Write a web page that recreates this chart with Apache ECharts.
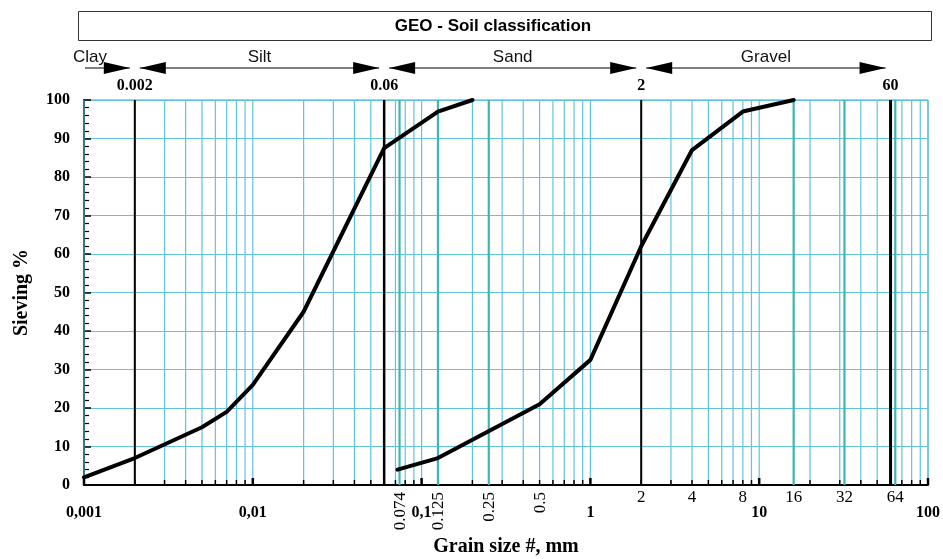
<!DOCTYPE html>
<html>
<head>
<meta charset="utf-8">
<script src="https://cdn.jsdelivr.net/npm/echarts@6/dist/echarts.min.js"></script>
<style>
  html, body { margin: 0; padding: 0; background: #fff; }
  #main { width: 943px; height: 559px; }
</style>
</head>
<body>
<div id="main"></div>
<script>
// grain size (mm) / passing (%)
const fineSize = [0.001, 0.002, 0.005, 0.007, 0.01, 0.02, 0.06, 0.125, 0.2];
const finePass = [2, 7, 15, 19, 26, 45, 87.5, 97, 100];
const coarseSize = [0.072, 0.125, 0.5, 1, 2, 4, 8, 16];
const coarsePass = [4, 7, 21, 32.5, 62, 87, 97, 100];

const decadeLabels = ['0,001', '0,01', '0,1', '1', '10', '100'];
const decadeStarts = [0.001, 0.01, 0.1, 1, 10];
const gridSteps = [1, 2, 3, 4, 5, 6, 7, 8, 9];

const sieveSizes = [0.074, 0.125, 0.25, 0.5, 2, 4, 8, 16, 32, 64];
const sieveLabels = ['0.074', '0.125', '0.25', '0.5', '2', '4', '8', '16', '32', '64'];
const tealSizes = [0.074, 0.125, 0.25, 16, 32, 64];

const boundSizes = [0.002, 0.06, 2, 60];
const boundLabels = ['0.002', '0.06', '2', '60'];
const zoneNames = ['Clay', 'Silt', 'Sand', 'Gravel'];
const zoneLimits = [0.001, 0.002, 0.06, 2, 60];

const serif = '"Liberation Serif", "DejaVu Serif", serif';
const sans = '"Liberation Sans", Arial, sans-serif';

let gridValues = [];
decadeStarts.forEach(d => gridSteps.forEach(k => gridValues.push(+(d * k).toPrecision(3))));
gridValues.push(100);

function pairs(xs, ys) {
    return xs.map((x, i) => [x, ys[i]]);
}

const chart = echarts.init(document.getElementById('main'));

const option = {
    animation: false,
    grid: {
        left: 84, right: 15, top: 100, bottom: 74,
        containLabel: false, outerBoundsMode: 'none',
        show: true, borderColor: '#5a98a6', borderWidth: 1
    },
    graphic: [
        {
            type: 'rect', left: 78, top: 11,
            shape: {width: 853, height: 29},
            style: {fill: '#fff', stroke: '#333', lineWidth: 1}
        },
        {
            type: 'text', x: 493, y: 26,
            style: {
                text: 'GEO - Soil classification', fill: '#000',
                font: 'bold 17px ' + sans, align: 'center', verticalAlign: 'middle'
            }
        }
    ],
    xAxis: {
        type: 'log', logBase: 10, min: 0.001, max: 100,
        name: 'Grain size #, mm', nameLocation: 'middle', nameGap: 52,
        nameTextStyle: {fontFamily: serif, fontWeight: 'bold', fontSize: 20, color: '#000'},
        axisLine: {show: true, onZero: false, lineStyle: {color: '#000', width: 2}},
        axisTick: {show: false},
        splitLine: {show: false},
        axisLabel: {
            margin: 20, color: '#000', fontFamily: serif, fontWeight: 'bold', fontSize: 16,
            showMinLabel: true, showMaxLabel: true,
            formatter: v => decadeLabels[Math.round(Math.log10(v)) + 3]
        }
    },
    yAxis: {
        type: 'value', min: 0, max: 100, interval: 10,
        name: 'Sieving %', nameLocation: 'middle', nameGap: 52,
        nameTextStyle: {fontFamily: serif, fontWeight: 'bold', fontSize: 20, color: '#000'},
        axisLine: {show: true, lineStyle: {color: '#000', width: 2}},
        axisTick: {show: true, inside: true, length: 7, lineStyle: {color: '#000', width: 1.5}},
        minorTick: {show: true, splitNumber: 5, length: 5, lineStyle: {color: '#000', width: 1.2}},
        splitLine: {show: true, lineStyle: {color: '#62c4dc', width: 1.2}},
        axisLabel: {margin: 14, color: '#000', fontFamily: serif, fontWeight: 'bold', fontSize: 16}
    },
    series: [
        {
            // log grid lines + bottom ticks
            type: 'custom', silent: true, z: 1, clip: false,
            data: gridValues.map(v => [v, 0]),
            renderItem(params, api) {
                const v = api.value(0);
                const top = api.coord([v, 100]);
                const bot = api.coord([v, 0]);
                const isDecade = Math.abs(Math.log10(v) - Math.round(Math.log10(v))) < 1e-6;
                return {
                    type: 'group',
                    children: [
                        {type: 'line', shape: {x1: top[0], y1: top[1], x2: bot[0], y2: bot[1]},
                         style: {stroke: '#62c4dc', lineWidth: 1.2}},
                        {type: 'line', shape: {x1: bot[0], y1: bot[1], x2: bot[0], y2: bot[1] - (isDecade ? 7 : 5)},
                         style: {stroke: '#000', lineWidth: isDecade ? 2.5 : 1.5}}
                    ]
                };
            }
        },
        {
            // sieve lines
            type: 'custom', silent: true, z: 2, clip: false,
            data: tealSizes.map(v => [v, 0]),
            renderItem(params, api) {
                const v = api.value(0);
                const top = api.coord([v, 100]);
                const bot = api.coord([v, 0]);
                return {type: 'line', shape: {x1: top[0], y1: top[1], x2: bot[0], y2: bot[1]},
                        style: {stroke: '#3db5b2', lineWidth: 2.2}};
            }
        },
        {
            // sieve labels
            type: 'custom', silent: true, z: 3, clip: false,
            data: sieveSizes.map(v => [v, 0]),
            renderItem(params, api) {
                const v = api.value(0);
                const p = api.coord([v, 0]);
                const txt = sieveLabels[params.dataIndex];
                if (v < 1) {
                    return {type: 'text', x: p[0] + 1, y: p[1] + 7, rotation: Math.PI / 2,
                            style: {text: txt, fill: '#000', font: '17px ' + serif,
                                    align: 'right', verticalAlign: 'middle'}};
                }
                return {type: 'text', x: p[0], y: p[1] + 13,
                        style: {text: txt, fill: '#000', font: '17px ' + serif,
                                align: 'center', verticalAlign: 'middle'}};
            }
        },
        {
            // class boundaries
            type: 'custom', silent: true, z: 4, clip: false,
            data: boundSizes.map(v => [v, 0]),
            renderItem(params, api) {
                const v = api.value(0);
                const top = api.coord([v, 100]);
                const bot = api.coord([v, 0]);
                const w = [2, 2.5, 2, 3][params.dataIndex];
                return {
                    type: 'group',
                    children: [
                        {type: 'line', shape: {x1: top[0], y1: top[1], x2: bot[0], y2: bot[1]},
                         style: {stroke: '#000', lineWidth: w}},
                        {type: 'text', x: top[0], y: top[1] - 14,
                         style: {text: boundLabels[params.dataIndex], fill: '#000',
                                 font: 'bold 16px ' + serif, align: 'center', verticalAlign: 'middle'}}
                    ]
                };
            }
        },
        {
            // soil class arrows
            type: 'custom', silent: true, z: 4, clip: false,
            data: zoneNames.map((n, i) => [zoneLimits[i], zoneLimits[i + 1]]),
            renderItem(params, api) {
                const i = params.dataIndex;
                const a = api.coord([api.value(0), 100]);
                const b = api.coord([api.value(1), 100]);
                const y = a[1] - 32;
                const xl = i === 0 ? a[0] + 1 : a[0] + 5;
                const xr = b[0] - 5;
                const kids = [
                    {type: 'line', shape: {x1: xl, y1: y, x2: xr, y2: y},
                     style: {stroke: '#555', lineWidth: 1.5}},
                    {type: 'polygon', shape: {points: [[xr, y], [xr - 26, y - 6], [xr - 26, y + 6]]},
                     style: {fill: '#000'}}
                ];
                if (i > 0) {
                    kids.push({type: 'polygon', shape: {points: [[xl, y], [xl + 26, y - 6], [xl + 26, y + 6]]},
                               style: {fill: '#000'}});
                }
                kids.push({type: 'text', x: i === 0 ? a[0] + 6 : (a[0] + b[0]) / 2, y: y - 11,
                           style: {text: zoneNames[i], fill: '#111', font: '17px ' + sans,
                                   align: 'center', verticalAlign: 'middle'}});
                return {type: 'group', children: kids};
            }
        },
        {
            name: 'Fine', type: 'line', z: 5, symbol: 'none',
            data: pairs(fineSize, finePass),
            lineStyle: {color: '#000', width: 4, cap: 'round', join: 'round'}
        },
        {
            name: 'Coarse', type: 'line', z: 5, symbol: 'none',
            data: pairs(coarseSize, coarsePass),
            lineStyle: {color: '#000', width: 4, cap: 'round', join: 'round'}
        }
    ]
};

chart.setOption(option);

window.addEventListener('resize', function () {
    chart.resize();
});
</script>
</body>
</html>
